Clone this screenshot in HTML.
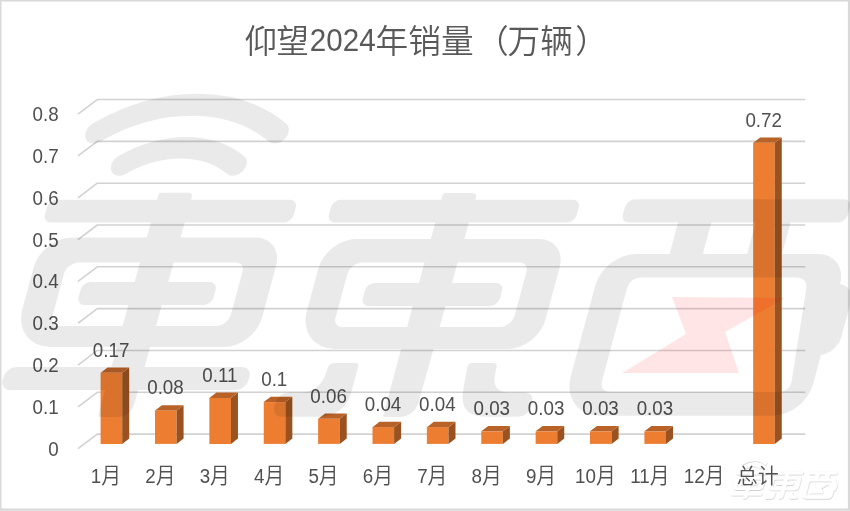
<!DOCTYPE html>
<html lang="zh-CN"><head><meta charset="utf-8"><title>仰望2024年销量（万辆）</title>
<style>html,body{margin:0;padding:0;background:#fff}body{width:850px;height:511px;overflow:hidden;position:relative}svg{position:absolute;left:0;top:0;display:block}text{font-family:"Liberation Sans","Noto Sans CJK SC",sans-serif;fill:#595959}.lb{fill:#505050}</style></head><body>
<svg width="850" height="511" viewBox="0 0 850 511">
<rect x="0" y="0" width="850" height="511" fill="#fff"/>
<path d="M0.75,511V0.75H850" fill="none" stroke="#d9d9d9" stroke-width="1.5"/>
<path d="M849,0V509.7H0" fill="none" stroke="#d9d9d9" stroke-width="2.2"/>
<path d="M78.00,448.70L97.30,434.10H805.24" fill="none" stroke="#d2d2d2" stroke-width="1.6" stroke-linejoin="round"/>
<path d="M78.00,406.88L97.30,392.28H805.24" fill="none" stroke="#d2d2d2" stroke-width="1.6" stroke-linejoin="round"/>
<path d="M78.00,365.06L97.30,350.46H805.24" fill="none" stroke="#d2d2d2" stroke-width="1.6" stroke-linejoin="round"/>
<path d="M78.00,323.24L97.30,308.64H805.24" fill="none" stroke="#d2d2d2" stroke-width="1.6" stroke-linejoin="round"/>
<path d="M78.00,281.42L97.30,266.82H805.24" fill="none" stroke="#d2d2d2" stroke-width="1.6" stroke-linejoin="round"/>
<path d="M78.00,239.60L97.30,225.00H805.24" fill="none" stroke="#d2d2d2" stroke-width="1.6" stroke-linejoin="round"/>
<path d="M78.00,197.78L97.30,183.18H805.24" fill="none" stroke="#d2d2d2" stroke-width="1.6" stroke-linejoin="round"/>
<path d="M78.00,155.96L97.30,141.36H805.24" fill="none" stroke="#d2d2d2" stroke-width="1.6" stroke-linejoin="round"/>
<path d="M78.00,114.14L97.30,99.54H805.24" fill="none" stroke="#d2d2d2" stroke-width="1.6" stroke-linejoin="round"/>
<text class="lb" transform="translate(58.6,455.60) scale(0.930,1)" font-size="20.2" text-anchor="end">0</text>
<text class="lb" transform="translate(58.6,413.78) scale(0.930,1)" font-size="20.2" text-anchor="end">0.1</text>
<text class="lb" transform="translate(58.6,371.96) scale(0.930,1)" font-size="20.2" text-anchor="end">0.2</text>
<text class="lb" transform="translate(58.6,330.14) scale(0.930,1)" font-size="20.2" text-anchor="end">0.3</text>
<text class="lb" transform="translate(58.6,288.32) scale(0.930,1)" font-size="20.2" text-anchor="end">0.4</text>
<text class="lb" transform="translate(58.6,246.50) scale(0.930,1)" font-size="20.2" text-anchor="end">0.5</text>
<text class="lb" transform="translate(58.6,204.68) scale(0.930,1)" font-size="20.2" text-anchor="end">0.6</text>
<text class="lb" transform="translate(58.6,162.86) scale(0.930,1)" font-size="20.2" text-anchor="end">0.7</text>
<text class="lb" transform="translate(58.6,121.04) scale(0.930,1)" font-size="20.2" text-anchor="end">0.8</text>
<path d="M100.60,443.90h21.60v-71.09h-21.60z" fill="#ed7d31"/>
<path d="M122.20,443.90l7.00,-5.30v-71.09l-7.00,5.30z" fill="#9a5220"/>
<path d="M100.60,372.81l7.00,-5.30h21.60l-7.00,5.30z" fill="#b86227"/>
<text class="lb" transform="translate(111.10,356.71) scale(0.930,1)" font-size="20.2" text-anchor="middle">0.17</text>
<path d="M154.98,443.90h21.60v-33.46h-21.60z" fill="#ed7d31"/>
<path d="M176.58,443.90l7.00,-5.30v-33.46l-7.00,5.30z" fill="#9a5220"/>
<path d="M154.98,410.44l7.00,-5.30h21.60l-7.00,5.30z" fill="#b86227"/>
<text class="lb" transform="translate(165.48,394.34) scale(0.930,1)" font-size="20.2" text-anchor="middle">0.08</text>
<path d="M209.36,443.90h21.60v-46.00h-21.60z" fill="#ed7d31"/>
<path d="M230.96,443.90l7.00,-5.30v-46.00l-7.00,5.30z" fill="#9a5220"/>
<path d="M209.36,397.90l7.00,-5.30h21.60l-7.00,5.30z" fill="#b86227"/>
<text class="lb" transform="translate(219.86,381.80) scale(0.930,1)" font-size="20.2" text-anchor="middle">0.11</text>
<path d="M263.74,443.90h21.60v-41.82h-21.60z" fill="#ed7d31"/>
<path d="M285.34,443.90l7.00,-5.30v-41.82l-7.00,5.30z" fill="#9a5220"/>
<path d="M263.74,402.08l7.00,-5.30h21.60l-7.00,5.30z" fill="#b86227"/>
<text class="lb" transform="translate(274.24,385.98) scale(0.930,1)" font-size="20.2" text-anchor="middle">0.1</text>
<path d="M318.12,443.90h21.60v-25.09h-21.60z" fill="#ed7d31"/>
<path d="M339.72,443.90l7.00,-5.30v-25.09l-7.00,5.30z" fill="#9a5220"/>
<path d="M318.12,418.81l7.00,-5.30h21.60l-7.00,5.30z" fill="#b86227"/>
<text class="lb" transform="translate(328.62,402.71) scale(0.930,1)" font-size="20.2" text-anchor="middle">0.06</text>
<path d="M372.50,443.90h21.60v-16.73h-21.60z" fill="#ed7d31"/>
<path d="M394.10,443.90l7.00,-5.30v-16.73l-7.00,5.30z" fill="#9a5220"/>
<path d="M372.50,427.17l7.00,-5.30h21.60l-7.00,5.30z" fill="#b86227"/>
<text class="lb" transform="translate(383.00,411.07) scale(0.930,1)" font-size="20.2" text-anchor="middle">0.04</text>
<path d="M426.88,443.90h21.60v-16.73h-21.60z" fill="#ed7d31"/>
<path d="M448.48,443.90l7.00,-5.30v-16.73l-7.00,5.30z" fill="#9a5220"/>
<path d="M426.88,427.17l7.00,-5.30h21.60l-7.00,5.30z" fill="#b86227"/>
<text class="lb" transform="translate(437.38,411.07) scale(0.930,1)" font-size="20.2" text-anchor="middle">0.04</text>
<path d="M481.26,443.90h21.60v-12.55h-21.60z" fill="#ed7d31"/>
<path d="M502.86,443.90l7.00,-5.30v-12.55l-7.00,5.30z" fill="#9a5220"/>
<path d="M481.26,431.35l7.00,-5.30h21.60l-7.00,5.30z" fill="#b86227"/>
<text class="lb" transform="translate(491.76,415.25) scale(0.930,1)" font-size="20.2" text-anchor="middle">0.03</text>
<path d="M535.64,443.90h21.60v-12.55h-21.60z" fill="#ed7d31"/>
<path d="M557.24,443.90l7.00,-5.30v-12.55l-7.00,5.30z" fill="#9a5220"/>
<path d="M535.64,431.35l7.00,-5.30h21.60l-7.00,5.30z" fill="#b86227"/>
<text class="lb" transform="translate(546.14,415.25) scale(0.930,1)" font-size="20.2" text-anchor="middle">0.03</text>
<path d="M590.02,443.90h21.60v-12.55h-21.60z" fill="#ed7d31"/>
<path d="M611.62,443.90l7.00,-5.30v-12.55l-7.00,5.30z" fill="#9a5220"/>
<path d="M590.02,431.35l7.00,-5.30h21.60l-7.00,5.30z" fill="#b86227"/>
<text class="lb" transform="translate(600.52,415.25) scale(0.930,1)" font-size="20.2" text-anchor="middle">0.03</text>
<path d="M644.40,443.90h21.60v-12.55h-21.60z" fill="#ed7d31"/>
<path d="M666.00,443.90l7.00,-5.30v-12.55l-7.00,5.30z" fill="#9a5220"/>
<path d="M644.40,431.35l7.00,-5.30h21.60l-7.00,5.30z" fill="#b86227"/>
<text class="lb" transform="translate(654.90,415.25) scale(0.930,1)" font-size="20.2" text-anchor="middle">0.03</text>
<path d="M753.16,443.90h21.60v-301.10h-21.60z" fill="#ed7d31"/>
<path d="M774.76,443.90l7.00,-5.30v-301.10l-7.00,5.30z" fill="#9a5220"/>
<path d="M753.16,142.80l7.00,-5.30h21.60l-7.00,5.30z" fill="#b86227"/>
<text class="lb" transform="translate(763.66,126.70) scale(0.930,1)" font-size="20.2" text-anchor="middle">0.72</text>
<filter id="sh" x="-10%" y="-10%" width="120%" height="130%"><feDropShadow dx="3" dy="5" stdDeviation="3.5" flood-color="#000" flood-opacity="0.28"/></filter>
<g transform="translate(730.60,446.50) scale(0.1255)" filter="url(#sh)"><title>车东西</title><g transform="matrix(1,0,-0.270,1,78.84,0)" fill="#fff" stroke="#fff"><path stroke="none" d="M32.0,199.7H265.0A8.0,8.0 0 0 1 273.0,207.7V214.6A8.0,8.0 0 0 1 265.0,222.6H32.0A8.0,8.0 0 0 1 24.0,214.6V207.7A8.0,8.0 0 0 1 32.0,199.7Z M132.2,194.7Q132.2,192.7 134.2,192.7L161.2,192.7Q166.2,192.7 166.2,197.7L164.6,403.0Q164.5,417.0 150.5,417.0L134.5,417.0Q131.5,417.0 131.5,414.0Z M57.0,237.6H241.0A28.0,28.0 0 0 1 269.0,265.6V317.0A30.0,30.0 0 0 1 239.0,347.0H65.0A38.0,38.0 0 0 1 27.0,309.0V267.6A30.0,30.0 0 0 1 57.0,237.6ZM71.0,262.4A12.0,12.0 0 0 0 59.0,274.4V317.0A9.0,9.0 0 0 0 68.0,326.0H225.0A12.0,12.0 0 0 0 237.0,314.0V271.4A9.0,9.0 0 0 0 228.0,262.4Z M88.0,282.0H207.0A8.0,8.0 0 0 1 215.0,290.0V297.0A8.0,8.0 0 0 1 207.0,305.0H88.0A8.0,8.0 0 0 1 80.0,297.0V290.0A8.0,8.0 0 0 1 88.0,282.0Z M36.4,367.0H262.4A10.0,10.0 0 0 1 272.4,377.0V380.0A10.0,10.0 0 0 1 262.4,390.0H36.4A10.0,10.0 0 0 1 26.4,380.0V377.0A10.0,10.0 0 0 1 36.4,367.0Z M316.0,199.7H548.0A8.0,8.0 0 0 1 556.0,207.7V214.6A8.0,8.0 0 0 1 548.0,222.6H316.0A8.0,8.0 0 0 1 308.0,214.6V207.7A8.0,8.0 0 0 1 316.0,199.7Z M416.5,195.0Q416.5,193.0 418.5,193.0L445.5,193.0Q450.5,193.0 450.4,198.0L448.4,401.0Q448.2,417.0 432.2,417.0L419.5,417.0Q416.5,417.0 416.5,414.0Z M342.0,239.0H525.0A28.0,28.0 0 0 1 553.0,267.0V319.0A30.0,30.0 0 0 1 523.0,349.0H350.0A38.0,38.0 0 0 1 312.0,311.0V269.0A30.0,30.0 0 0 1 342.0,239.0ZM354.5,262.5A12.0,12.0 0 0 0 342.5,274.5V318.0A9.0,9.0 0 0 0 351.5,327.0H509.0A12.0,12.0 0 0 0 521.0,315.0V271.5A9.0,9.0 0 0 0 512.0,262.5Z M372.5,283.0H493.7A8.0,8.0 0 0 1 501.7,291.0V298.0A8.0,8.0 0 0 1 493.7,306.0H372.5A8.0,8.0 0 0 1 364.5,298.0V291.0A8.0,8.0 0 0 1 372.5,283.0Z M348.0,369.0Q348.0,363.0 354.0,363.0L374.4,363.0Q378.4,363.0 378.4,367.0L378.4,390.8Q378.4,416.8 352.4,416.8L316.3,416.8Q305.3,416.8 305.3,405.8L305.3,403.4Q305.3,392.4 316.3,392.4L326.0,392.4Q348.0,392.4 348.0,370.4Z M487.6,367.0Q487.3,363.0 491.3,363.0L512.5,363.0Q516.5,363.0 516.8,367.0L517.3,374.4Q518.5,392.4 536.5,392.4L551.0,392.4Q562.0,392.4 562.0,403.4L562.0,405.8Q562.0,416.8 551.0,416.8L519.8,416.8Q491.8,416.8 489.5,388.9Z M610.0,199.3H819.0A8.0,8.0 0 0 1 827.0,207.3V214.5A8.0,8.0 0 0 1 819.0,222.5H610.0A8.0,8.0 0 0 1 602.0,214.5V207.3A8.0,8.0 0 0 1 610.0,199.3Z M659.3,211.0H692.6A0.0,0.0 0 0 1 692.6,211.0V266.0A0.0,0.0 0 0 1 692.6,266.0H659.3A0.0,0.0 0 0 1 659.3,266.0V211.0A0.0,0.0 0 0 1 659.3,211.0Z M736.8,211.0H771.8A0.0,0.0 0 0 1 771.8,211.0V266.0A0.0,0.0 0 0 1 771.8,266.0H736.8A0.0,0.0 0 0 1 736.8,266.0V211.0A0.0,0.0 0 0 1 736.8,211.0Z M625.5,254.0H808.0A30.0,30.0 0 0 1 838.0,284.0V383.8A32.0,32.0 0 0 1 806.0,415.8H633.5A40.0,40.0 0 0 1 593.5,375.8V286.0A32.0,32.0 0 0 1 625.5,254.0ZM626.0,380.0Q626.0,392.0 638.0,392.0L805.0,392.0Q817.0,392.0 815.6,380.1L805.4,289.4Q804.0,277.5 792.0,277.5L638.0,277.5Q626.0,277.5 626.0,289.5Z M825.0,284.0H835.5A18.0,18.0 0 0 1 853.5,302.0V337.0A18.0,18.0 0 0 1 835.5,355.0H825.0A0.0,0.0 0 0 1 825.0,355.0V284.0A0.0,0.0 0 0 1 825.0,284.0Z"/><path d="M53.5,132.5A162,162 0 0 1 234.5,132.5" fill="none" stroke-width="22" stroke-linecap="round"/><path d="M87.7,165.0A102,102 0 0 1 201.4,165.0" fill="none" stroke-width="21.5" stroke-linecap="round"/></g><path d="M672,297L785,298L725,332L739,373H622L686,334Z" fill="#fff"/></g>
<text class="lb" transform="translate(105.99,482.7) scale(0.930,1)" font-size="20.2" text-anchor="middle">1<tspan class="cj" font-size="21.3" font-weight="350">月</tspan></text>
<text class="lb" transform="translate(160.37,482.7) scale(0.930,1)" font-size="20.2" text-anchor="middle">2<tspan class="cj" font-size="21.3" font-weight="350">月</tspan></text>
<text class="lb" transform="translate(214.75,482.7) scale(0.930,1)" font-size="20.2" text-anchor="middle">3<tspan class="cj" font-size="21.3" font-weight="350">月</tspan></text>
<text class="lb" transform="translate(269.13,482.7) scale(0.930,1)" font-size="20.2" text-anchor="middle">4<tspan class="cj" font-size="21.3" font-weight="350">月</tspan></text>
<text class="lb" transform="translate(323.51,482.7) scale(0.930,1)" font-size="20.2" text-anchor="middle">5<tspan class="cj" font-size="21.3" font-weight="350">月</tspan></text>
<text class="lb" transform="translate(377.89,482.7) scale(0.930,1)" font-size="20.2" text-anchor="middle">6<tspan class="cj" font-size="21.3" font-weight="350">月</tspan></text>
<text class="lb" transform="translate(432.27,482.7) scale(0.930,1)" font-size="20.2" text-anchor="middle">7<tspan class="cj" font-size="21.3" font-weight="350">月</tspan></text>
<text class="lb" transform="translate(486.65,482.7) scale(0.930,1)" font-size="20.2" text-anchor="middle">8<tspan class="cj" font-size="21.3" font-weight="350">月</tspan></text>
<text class="lb" transform="translate(541.03,482.7) scale(0.930,1)" font-size="20.2" text-anchor="middle">9<tspan class="cj" font-size="21.3" font-weight="350">月</tspan></text>
<text class="lb" transform="translate(595.41,482.7) scale(0.930,1)" font-size="20.2" text-anchor="middle">10<tspan class="cj" font-size="21.3" font-weight="350">月</tspan></text>
<text class="lb" transform="translate(649.79,482.7) scale(0.930,1)" font-size="20.2" text-anchor="middle">11<tspan class="cj" font-size="21.3" font-weight="350">月</tspan></text>
<text class="lb" transform="translate(704.17,482.7) scale(0.930,1)" font-size="20.2" text-anchor="middle">12<tspan class="cj" font-size="21.3" font-weight="350">月</tspan></text>
<text class="cj lb" x="757.75" y="482.6" font-size="21" font-weight="350" text-anchor="middle">总计</text>
<text font-size="32.7" font-weight="350"><tspan x="244.5" y="53" textLength="64.4" lengthAdjust="spacing">仰望</tspan><tspan x="309.8" y="50.8" font-size="30.6" font-weight="400" textLength="65.8" lengthAdjust="spacingAndGlyphs">2024</tspan><tspan x="375.6" y="53">年销量</tspan><tspan dx="2.4">（</tspan><tspan dx="-1.2">万辆</tspan><tspan dx="2.4">）</tspan></text>
<g opacity="0.080"><title>车东西</title><g transform="matrix(1,0,-0.270,1,78.84,0)" fill="#000" stroke="#000"><path stroke="none" d="M32.0,199.7H265.0A8.0,8.0 0 0 1 273.0,207.7V214.6A8.0,8.0 0 0 1 265.0,222.6H32.0A8.0,8.0 0 0 1 24.0,214.6V207.7A8.0,8.0 0 0 1 32.0,199.7Z M132.2,194.7Q132.2,192.7 134.2,192.7L161.2,192.7Q166.2,192.7 166.2,197.7L164.6,403.0Q164.5,417.0 150.5,417.0L134.5,417.0Q131.5,417.0 131.5,414.0Z M57.0,237.6H241.0A28.0,28.0 0 0 1 269.0,265.6V317.0A30.0,30.0 0 0 1 239.0,347.0H65.0A38.0,38.0 0 0 1 27.0,309.0V267.6A30.0,30.0 0 0 1 57.0,237.6ZM71.0,262.4A12.0,12.0 0 0 0 59.0,274.4V317.0A9.0,9.0 0 0 0 68.0,326.0H225.0A12.0,12.0 0 0 0 237.0,314.0V271.4A9.0,9.0 0 0 0 228.0,262.4Z M88.0,282.0H207.0A8.0,8.0 0 0 1 215.0,290.0V297.0A8.0,8.0 0 0 1 207.0,305.0H88.0A8.0,8.0 0 0 1 80.0,297.0V290.0A8.0,8.0 0 0 1 88.0,282.0Z M36.4,367.0H262.4A10.0,10.0 0 0 1 272.4,377.0V380.0A10.0,10.0 0 0 1 262.4,390.0H36.4A10.0,10.0 0 0 1 26.4,380.0V377.0A10.0,10.0 0 0 1 36.4,367.0Z M316.0,199.7H548.0A8.0,8.0 0 0 1 556.0,207.7V214.6A8.0,8.0 0 0 1 548.0,222.6H316.0A8.0,8.0 0 0 1 308.0,214.6V207.7A8.0,8.0 0 0 1 316.0,199.7Z M416.5,195.0Q416.5,193.0 418.5,193.0L445.5,193.0Q450.5,193.0 450.4,198.0L448.4,401.0Q448.2,417.0 432.2,417.0L419.5,417.0Q416.5,417.0 416.5,414.0Z M342.0,239.0H525.0A28.0,28.0 0 0 1 553.0,267.0V319.0A30.0,30.0 0 0 1 523.0,349.0H350.0A38.0,38.0 0 0 1 312.0,311.0V269.0A30.0,30.0 0 0 1 342.0,239.0ZM354.5,262.5A12.0,12.0 0 0 0 342.5,274.5V318.0A9.0,9.0 0 0 0 351.5,327.0H509.0A12.0,12.0 0 0 0 521.0,315.0V271.5A9.0,9.0 0 0 0 512.0,262.5Z M372.5,283.0H493.7A8.0,8.0 0 0 1 501.7,291.0V298.0A8.0,8.0 0 0 1 493.7,306.0H372.5A8.0,8.0 0 0 1 364.5,298.0V291.0A8.0,8.0 0 0 1 372.5,283.0Z M348.0,369.0Q348.0,363.0 354.0,363.0L374.4,363.0Q378.4,363.0 378.4,367.0L378.4,390.8Q378.4,416.8 352.4,416.8L316.3,416.8Q305.3,416.8 305.3,405.8L305.3,403.4Q305.3,392.4 316.3,392.4L326.0,392.4Q348.0,392.4 348.0,370.4Z M487.6,367.0Q487.3,363.0 491.3,363.0L512.5,363.0Q516.5,363.0 516.8,367.0L517.3,374.4Q518.5,392.4 536.5,392.4L551.0,392.4Q562.0,392.4 562.0,403.4L562.0,405.8Q562.0,416.8 551.0,416.8L519.8,416.8Q491.8,416.8 489.5,388.9Z M610.0,199.3H819.0A8.0,8.0 0 0 1 827.0,207.3V214.5A8.0,8.0 0 0 1 819.0,222.5H610.0A8.0,8.0 0 0 1 602.0,214.5V207.3A8.0,8.0 0 0 1 610.0,199.3Z M659.3,211.0H692.6A0.0,0.0 0 0 1 692.6,211.0V266.0A0.0,0.0 0 0 1 692.6,266.0H659.3A0.0,0.0 0 0 1 659.3,266.0V211.0A0.0,0.0 0 0 1 659.3,211.0Z M736.8,211.0H771.8A0.0,0.0 0 0 1 771.8,211.0V266.0A0.0,0.0 0 0 1 771.8,266.0H736.8A0.0,0.0 0 0 1 736.8,266.0V211.0A0.0,0.0 0 0 1 736.8,211.0Z M625.5,254.0H808.0A30.0,30.0 0 0 1 838.0,284.0V383.8A32.0,32.0 0 0 1 806.0,415.8H633.5A40.0,40.0 0 0 1 593.5,375.8V286.0A32.0,32.0 0 0 1 625.5,254.0ZM626.0,380.0Q626.0,392.0 638.0,392.0L805.0,392.0Q817.0,392.0 815.6,380.1L805.4,289.4Q804.0,277.5 792.0,277.5L638.0,277.5Q626.0,277.5 626.0,289.5Z M825.0,284.0H835.5A18.0,18.0 0 0 1 853.5,302.0V337.0A18.0,18.0 0 0 1 835.5,355.0H825.0A0.0,0.0 0 0 1 825.0,355.0V284.0A0.0,0.0 0 0 1 825.0,284.0Z"/><path d="M53.5,132.5A162,162 0 0 1 234.5,132.5" fill="none" stroke-width="22" stroke-linecap="round"/><path d="M87.7,165.0A102,102 0 0 1 201.4,165.0" fill="none" stroke-width="21.5" stroke-linecap="round"/></g></g>
<path d="M672,297L785,298L725,332L739,373H622L686,334Z" fill="#ff0000" fill-opacity="0.1"/>
</svg></body></html>
